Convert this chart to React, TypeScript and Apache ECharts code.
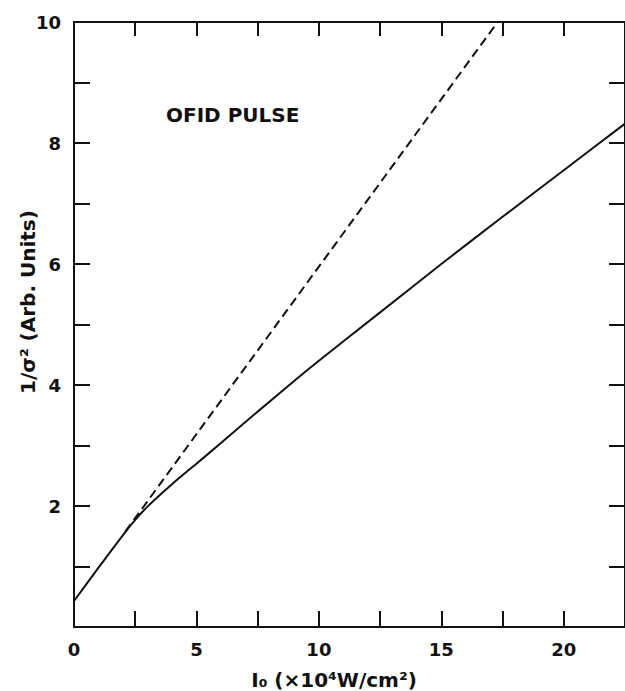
import React, { useEffect, useRef } from "react";
import * as echarts from "echarts";

const solidX = [0, 1, 2, 2.5, 3, 4, 5, 6, 7.5, 9, 10, 12.5, 15, 17.5, 20, 22.5];
const solidY = [0.43, 0.98, 1.52, 1.77, 1.99, 2.36, 2.7, 3.04, 3.56, 4.07, 4.4, 5.2, 6.0, 6.78, 7.55, 8.32];
const dashedX = [2.1, 17.3];
const dashedY = [1.58, 10.0];
const xLabels = [0, 5, 10, 15, 20];
const yLabels = [2, 4, 6, 8, 10];
const annotation = "OFID PULSE";
const xName = "I₀ (×10⁴W/cm²)";
const yName = "1/σ² (Arb. Units)";

const FONT = "'DejaVu Sans', 'Liberation Sans', Arial, sans-serif";

export default function App() {
  const ref = useRef<HTMLDivElement>(null);
  useEffect(() => {
    if (!ref.current) return;
    const chart = echarts.init(ref.current, undefined, { renderer: "svg" });
    const axisLine = { show: true, onZero: false, lineStyle: { color: "#111", width: 2 } };
    const tickStyle = { color: "#111", width: 2 };
    const grid = { left: 74, top: 22, width: 558, height: 605 };
    chart.setOption({
      animation: false,
      backgroundColor: "#fff",
      grid,
      xAxis: [
        {
          type: "value",
          position: "bottom",
          min: 0,
          max: 22.5,
          interval: 2.5,
          axisLine,
          axisTick: { show: true, inside: true, length: 16, lineStyle: tickStyle },
          splitLine: { show: false },
          axisLabel: {
            show: true,
            margin: 13,
            color: "#111",
            fontFamily: FONT,
            fontWeight: "bold",
            fontSize: 18,
            showMaxLabel: false,
            formatter: (v: number) => (xLabels.includes(v) ? String(v) : ""),
          },
        },
        {
          type: "value",
          position: "top",
          min: 0,
          max: 22.5,
          interval: 2.5,
          axisLine,
          axisTick: { show: true, inside: true, length: 14, lineStyle: tickStyle },
          splitLine: { show: false },
          axisLabel: { show: false },
        },
      ],
      yAxis: [
        {
          type: "value",
          position: "left",
          min: 0,
          max: 10,
          interval: 1,
          axisLine,
          axisTick: { show: true, inside: true, length: 16, lineStyle: tickStyle },
          splitLine: { show: false },
          axisLabel: {
            show: true,
            margin: 13,
            color: "#111",
            fontFamily: FONT,
            fontWeight: "bold",
            fontSize: 18,
            formatter: (v: number) => (yLabels.includes(v) ? String(v) : ""),
          },
        },
        {
          type: "value",
          position: "right",
          min: 0,
          max: 10,
          interval: 1,
          axisLine,
          axisTick: { show: true, inside: true, length: 16, lineStyle: tickStyle },
          splitLine: { show: false },
          axisLabel: { show: false },
        },
      ],
      graphic: [
        {
          type: "text",
          x: 166,
          y: 114.5,
          style: {
            text: annotation,
            fill: "#111",
            font: `bold 20px ${FONT}`,
            verticalAlign: "middle",
          },
        },
        {
          type: "text",
          x: 334,
          y: 680,
          style: {
            text: xName,
            fill: "#111",
            font: `bold 20px ${FONT}`,
            align: "center",
            verticalAlign: "middle",
          },
        },
        {
          type: "text",
          x: 27.5,
          y: 302,
          rotation: Math.PI / 2,
          style: {
            text: yName,
            fill: "#111",
            font: `bold 20px ${FONT}`,
            align: "center",
            verticalAlign: "middle",
          },
        },
      ],
      series: [
        {
          type: "line",
          xAxisIndex: 0,
          yAxisIndex: 0,
          data: solidX.map((x, i) => [x, solidY[i]]),
          smooth: 0.3,
          showSymbol: false,
          clip: true,
          lineStyle: { color: "#111", width: 2 },
        },
        {
          type: "line",
          xAxisIndex: 0,
          yAxisIndex: 0,
          data: dashedX.map((x, i) => [x, dashedY[i]]),
          showSymbol: false,
          lineStyle: { color: "#111", width: 2, type: [9, 5] },
        },
      ],
    });
    return () => chart.dispose();
  }, []);
  return (
    <div
      ref={ref}
      style={{ position: "fixed", left: 0, top: 0, width: 625, height: 691, background: "#fff" }}
    />
  );
}
